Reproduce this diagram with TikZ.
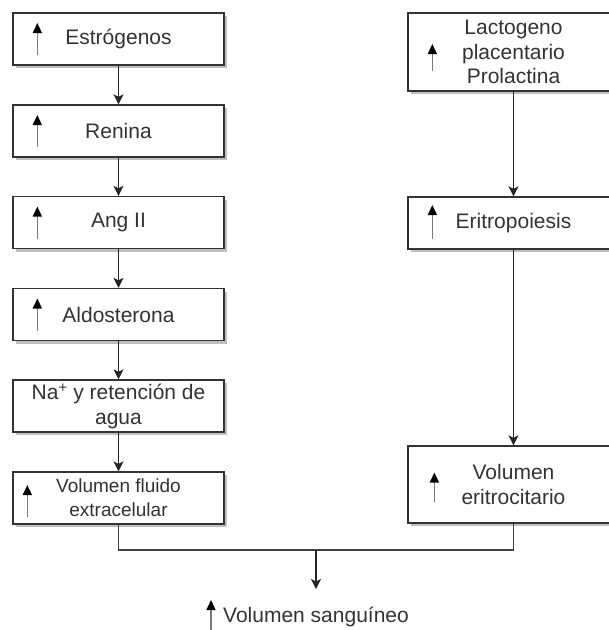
\documentclass[tikz,border=0pt]{standalone}
\usepackage{fontspec}
\setmainfont{Liberation Sans}
\usetikzlibrary{arrows.meta,shadows,calc}
\definecolor{txt}{HTML}{333333}
\definecolor{shaft}{HTML}{7A7A7A}
\tikzset{
  box/.style={draw=txt, line width=1.3pt, fill=white, minimum width=211pt, minimum height=52pt,
    inner sep=0pt, align=center, text=txt, font=\fontsize{21}{24.5}\selectfont,
    drop shadow={shadow xshift=3pt, shadow yshift=-3pt, fill=black!25, opacity=1}},
  conn/.style={draw=black!85, line width=1.1pt, -{Stealth[length=10pt,width=10pt,inset=2.5pt]}},
  line/.style={draw=black!75, line width=1.1pt},
  up/.style={draw=shaft, line width=1.4pt, -{Triangle[black,length=10pt,width=9pt]}}
}
\begin{document}
\begin{tikzpicture}[x=1pt,y=-1pt]
\useasboundingbox (0,0) rectangle (609,630);
\clip (0,0) rectangle (609,630);
% left column
\node[box] (e1) at (118.5,39) {Estrógenos};
\node[box] (e2) at (118.5,131) {Renina};
\node[box] (e3) at (118.5,222.5) {Ang II};
\node[box] (e4) at (118.5,314.5) {Aldosterona};
\node[box] (e5) at (118.5,406) {Na\textsuperscript{+} y retención de\\agua};
\node[box, font=\fontsize{19}{24}\selectfont] (e6) at (118.5,498) {Volumen fluido\\extracelular};
% right column
\node[box, minimum height=78pt] (r1) at (513.5,52) {Lactogeno\\placentario\\Prolactina};
\node[box] (r2) at (513.5,223) {Eritropoiesis};
\node[box, minimum height=77pt] (r3) at (513.5,484.5) {Volumen\\eritrocitario};
% up arrows inside boxes
\foreach \n in {e1,e2,e3,e4}{
  \draw[up] ([shift={(25pt,-16pt)}]\n.west) -- ([shift={(25pt,16pt)}]\n.west);
}
\draw[up] ([shift={(15pt,-19pt)}]e6.west) -- ([shift={(15pt,13pt)}]e6.west);
\draw[up] ([shift={(25pt,-19pt)}]r1.west) -- ([shift={(25pt,8pt)}]r1.west);
\draw[up] ([shift={(25pt,-16pt)}]r2.west) -- ([shift={(25pt,18pt)}]r2.west);
\draw[up] ([shift={(27pt,-17pt)}]r3.west) -- ([shift={(27pt,12pt)}]r3.west);
% connectors
\draw[conn] (e1) -- (e2);
\draw[conn] (e2) -- (e3);
\draw[conn] (e3) -- (e4);
\draw[conn] (e4) -- (e5);
\draw[conn] (e5) -- (e6);
\draw[conn] (r1) -- (r2);
\draw[conn] (r2) -- (r3);
% merge
\coordinate (jl) at (118.5,550);
\coordinate (jr) at (513.5,550);
\coordinate (jm) at (316,550);
\draw[line] (e6.south) -- (jl) -- (jr) -- (r3.south);
\node[anchor=west, inner sep=0pt, text=txt, font=\fontsize{21}{24}\selectfont] (res) at (223,617) {Volumen sanguíneo};
\draw[conn] (jm) -- (316,589);
\draw[up] (211,631) -- (211,600);
\end{tikzpicture}
\end{document}
